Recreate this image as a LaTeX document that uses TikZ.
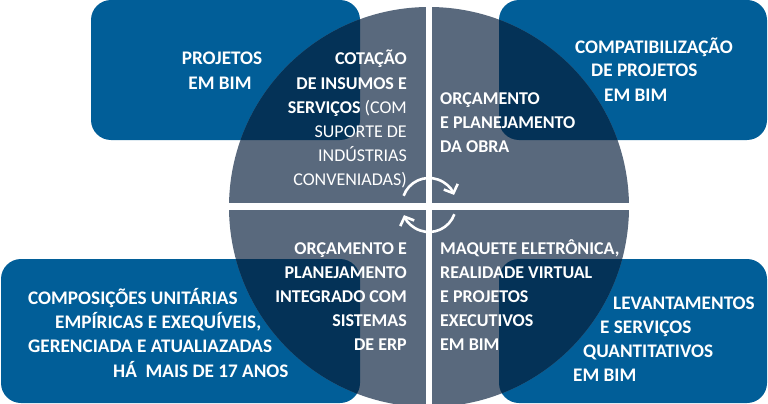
\documentclass[tikz,border=0pt]{standalone}
\usepackage{fontspec}
\setmainfont{Carlito}
\usetikzlibrary{arrows.meta}
\definecolor{cardFill}{HTML}{015E98}
\definecolor{ringFill}{HTML}{59697D}
\definecolor{overFill}{HTML}{043257}

\begin{document}
\begin{tikzpicture}[
  x=1pt, y=-1pt,
  font=\bfseries\fontsize{19.2}{24}\selectfont,
  card/.style     = {fill=cardFill, rounded corners=20pt},
  cardover/.style = {fill=overFill, rounded corners=20pt},
  split/.style    = {fill=white},
  txt/.style      = {text=white, inner sep=0pt},
  disc/.style     = {txt, font=\bfseries\fontsize{18}{24}\selectfont},
  turn/.style     = {draw=white, line width=2.6pt, -{Straight Barb[length=7pt, width=15pt]}},
]
\useasboundingbox (0,0) rectangle (768,404);
\clip (0,0) rectangle (768,404);
\def\cards{91/0/360/140, 499/0/767/140, 1/259/360/403, 499/259/767/403}

% ---------------------------------------------------------------- corner cards
\foreach \xa/\ya/\xb/\yb in \cards {
  \fill[card] (\xa,\ya) rectangle (\xb,\yb);
}

% ---------------------------------------------------------------- central disc
\coordinate (hub) at (429,205);
\fill[ringFill] (429,207) circle[radius=200];
\begin{scope}
  \clip (429,207) circle[radius=200];
  \foreach \xa/\ya/\xb/\yb in \cards {
    \fill[cardover] (\xa,\ya) rectangle (\xb,\yb);
  }
\end{scope}
\fill[split] (426,0) rectangle (432,404);
\fill[split] (220,202.5) rectangle (640,209.5);

% --- turning arrows round the hub
\draw[turn] (hub) ++(-160:27) arc[start angle=-160, end angle=-22, radius=27];
\draw[turn] (hub) ++(20:27) arc[start angle=20, end angle=158, radius=27];

% ---------------------------------------------------------------- disc texts
\foreach \t [count=\i] in {COTAÇÃO, DE INSUMOS E, SERVIÇOS {\mdseries (COM},
    {\mdseries SUPORTE DE}, {\mdseries INDÚSTRIAS}, {\mdseries CONVENIADAS)}} {
  \node[disc, anchor=base east] (cot\i) at (407,{41+24*\i}) {\t};
}
\foreach \t [count=\i] in {ORÇAMENTO, E PLANEJAMENTO, DA OBRA} {
  \node[disc, anchor=base west] (orc\i) at (440,{80+24*\i}) {\t};
}
\foreach \t [count=\i] in {ORÇAMENTO E, PLANEJAMENTO, INTEGRADO COM, SISTEMAS, DE ERP} {
  \node[disc, anchor=base east] (erp\i) at (407,{230+24*\i}) {\t};
}
\foreach \t [count=\i] in {{MAQUETE ELETRÔNICA,}, REALIDADE VIRTUAL, E PROJETOS,
    EXECUTIVOS, EM BIM} {
  \node[disc, anchor=base west] (maq\i) at (440,{230+24*\i}) {\t};
}

% ---------------------------------------------------------------- card texts
\foreach \x/\y/\t [count=\i] in {222/65/PROJETOS, 220/89/EM BIM} {
  \node[txt, anchor=base] (prj\i) at (\x,\y) {\t};
}
\foreach \x/\y/\t [count=\i] in {575/53/COMPATIBILIZAÇÃO, 591/77/DE PROJETOS, 604/101/EM BIM} {
  \node[txt, anchor=base west] (cmp\i) at (\x,\y) {\t};
}
\foreach \x/\y/\t [count=\i] in {28/304/COMPOSIÇÕES UNITÁRIAS, 55/328/{EMPÍRICAS E EXEQUÍVEIS,},
    28/352/GERENCIADA E ATUALIAZADAS, 113/377/HÁ\ \ MAIS DE 17 ANOS} {
  \node[txt, anchor=base west] (cpu\i) at (\x,\y) {\t};
}
\foreach \x/\y/\t [count=\i] in {613/309/LEVANTAMENTOS, 600/333/E SERVIÇOS,
    583/357/QUANTITATIVOS, 573/381/EM BIM} {
  \node[txt, anchor=base west] (lev\i) at (\x,\y) {\t};
}
\end{tikzpicture}
\end{document}
